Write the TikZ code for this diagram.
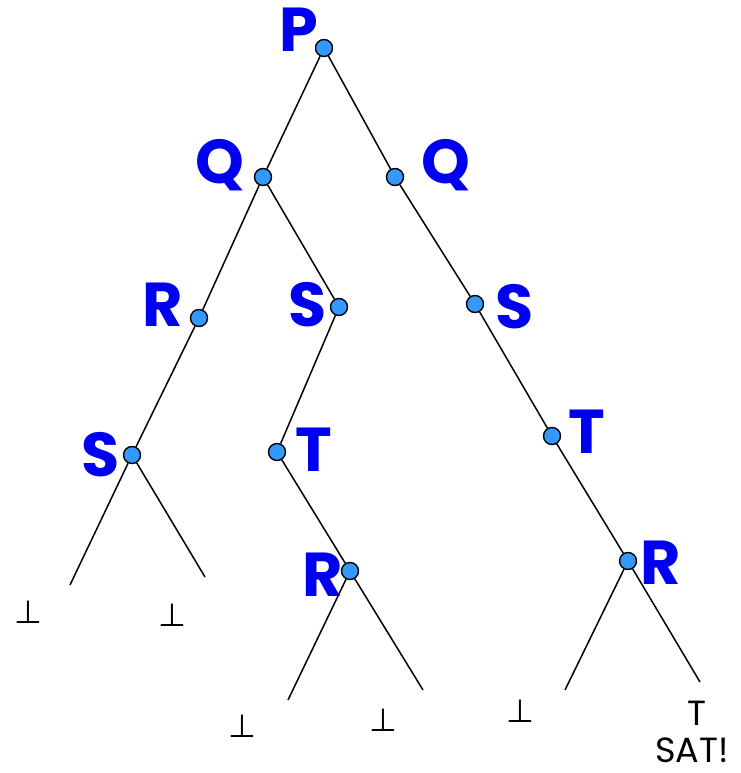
\documentclass[tikz,border=0pt]{standalone}
\usepackage{fontspec}
\setmainfont{Poppins}
\newfontfamily\symfont{DejaVu Sans}
\definecolor{dotblue}{RGB}{51,153,255}
\definecolor{lblue}{RGB}{0,0,240}
\begin{document}
\begin{tikzpicture}[x=1pt,y=-1pt,
  dotnode/.style={circle,draw=black,line width=1.4pt,fill=dotblue,minimum size=17pt,inner sep=0pt},
  vlabel/.style={text=lblue,font=\fontsize{62}{64}\selectfont\bfseries,inner sep=0pt,anchor=center},
  leaf/.style={font=\symfont\fontsize{32}{34}\selectfont,inner sep=0pt},
  blabel/.style={font=\fontsize{35}{37}\selectfont,inner sep=0pt},
  edge/.style={line width=1.5pt,black}]
\useasboundingbox (0,0) rectangle (740,773);
% dots
\node[dotnode] (P) at (324,48) {};
\node[dotnode] (QL) at (263,177) {};
\node[dotnode] (QR) at (395,177) {};
\node[dotnode] (RL) at (199,318) {};
\node[dotnode] (SM) at (339,307) {};
\node[dotnode] (SR) at (475,304) {};
\node[dotnode] (SL) at (132,455) {};
\node[dotnode] (TM) at (277,452) {};
\node[dotnode] (TR) at (552,436) {};
\node[dotnode] (RM) at (350,571) {};
\node[dotnode] (RR) at (628,561) {};
% labels
\node[vlabel] (lP) at (299,30) {P};
\node[vlabel] (lQL) at (220,165) {Q};
\node[vlabel] (lQR) at (446,165) {Q};
\node[vlabel] (lRL) at (163,305) {R};
\node[vlabel] (lSM) at (308,305) {S};
\node[vlabel] (lSR) at (515,307) {S};
\node[vlabel] (lSL) at (101,455) {S};
\node[vlabel] (lTM) at (314,450) {T};
\node[vlabel] (lTR) at (587,432) {T};
\node[vlabel] (lRM) at (323,575) {R};
\node[vlabel] (lRR) at (661,563) {R};
% leaf ends
\coordinate (a1) at (70,585);
\coordinate (a2) at (205,577);
\coordinate (b1) at (288,700);
\coordinate (b2) at (423,690);
\coordinate (c1) at (565,690);
\coordinate (c2) at (700,682);
% edges
\draw[edge] (P) -- (QL);
\draw[edge] (P) -- (QR);
\draw[edge] (QL) -- (RL);
\draw[edge] (QL) -- (SM);
\draw[edge] (RL) -- (SL);
\draw[edge] (SM) -- (TM);
\draw[edge] (TM) -- (RM);
\draw[edge] (QR) -- (SR);
\draw[edge] (SR) -- (TR);
\draw[edge] (TR) -- (RR);
\draw[edge] (SL) -- (a1);
\draw[edge] (SL) -- (a2);
\draw[edge] (RM) -- (b1);
\draw[edge] (RM) -- (b2);
\draw[edge] (RR) -- (c1);
\draw[edge] (RR) -- (c2);
% leaf symbols
\node[leaf] (f1) at (28,612) {⊥};
\node[leaf] (f2) at (172,615) {⊥};
\node[leaf] (f3) at (242,726) {⊥};
\node[leaf] (f4) at (383,720) {⊥};
\node[leaf] (f5) at (520,711) {⊥};
\node[blabel] (t6) at (697,713) {T};
\node[blabel] (sat) at (692,750) {SAT!};
\end{tikzpicture}
\end{document}
